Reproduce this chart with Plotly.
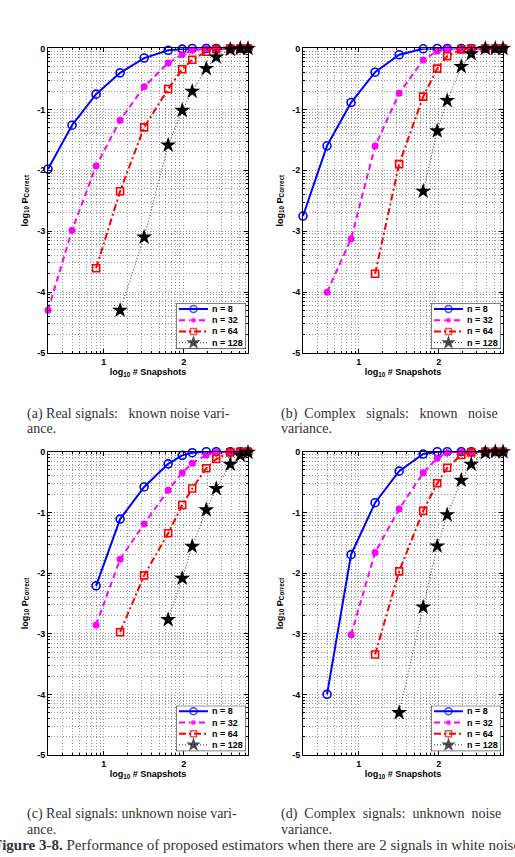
import numpy as np
import plotly.graph_objects as go

W, H = 515, 857

# ---------------- data ----------------
snapshots = [2, 4, 8, 16, 32, 64, 96, 128, 192, 256, 384, 512, 640]
series_names = ["n = 8", "n = 32", "n = 64", "n = 128"]

# log10 P_correct ; None = not plotted
a_n8 = [-1.98, -1.26, -0.75, -0.40, -0.157, -0.03, -0.01, 0, 0, 0, 0, 0, 0]
a_n32 = [-4.30, -2.985, -1.93, -1.18, -0.628, -0.238, -0.098, -0.03, -0.005, 0, 0, 0, 0]
a_n64 = [None, None, -3.61, -2.345, -1.295, -0.666, -0.341, -0.184, -0.054, -0.011, 0, 0, 0]
a_n128 = [None, None, None, -4.30, -3.10, -1.587, -1.018, -0.704, -0.33, -0.141, -0.016, 0, 0]

b_n8 = [-2.752, -1.598, -0.888, -0.39, -0.103, -0.005, 0, 0, 0, 0, 0, 0, 0]
b_n32 = [None, -4.003, -3.126, -1.603, -0.737, -0.19, -0.043, 0, 0, 0, 0, 0, 0]
b_n64 = [None, None, None, -3.70, -1.90, -0.791, -0.33, -0.125, -0.016, 0, 0, 0, 0]
b_n128 = [None, None, None, None, None, -2.346, -1.354, -0.856, -0.298, -0.087, 0, 0, 0]

c_n8 = [None, None, -2.21, -1.11, -0.58, -0.20, -0.06, -0.016, 0, 0, 0, 0, 0]
c_n32 = [None, None, -2.855, -1.77, -1.19, -0.634, -0.35, -0.19, -0.054, -0.01, 0, 0, 0]
c_n64 = [None, None, None, -2.974, -2.037, -1.343, -0.878, -0.607, -0.271, -0.12, -0.01, 0, 0]
c_n128 = [None, None, None, None, None, -2.768, -2.086, -1.56, -0.959, -0.607, -0.206, -0.06, -0.01]

d_n8 = [None, -3.998, -1.696, -0.84, -0.32, -0.038, 0, 0, 0, 0, 0, 0, 0]
d_n32 = [None, None, -3.017, -1.66, -0.943, -0.347, -0.108, -0.016, 0, 0, 0, 0, 0]
d_n64 = [None, None, None, -3.342, -1.972, -0.975, -0.52, -0.265, -0.054, -0.01, 0, 0, 0]
d_n128 = [None, None, None, None, -4.30, -2.56, -1.555, -1.04, -0.47, -0.206, -0.016, 0, 0]

panels = [
    [a_n8, a_n32, a_n64, a_n128],
    [b_n8, b_n32, b_n64, b_n128],
    [c_n8, c_n32, c_n64, c_n128],
    [d_n8, d_n32, d_n64, d_n128],
]

x_tick_vals = [1, 2]
x_tick_text = ["1", "2"]
y_tick_vals = [-5, -4, -3, -2, -1, 0]
y_tick_text = ["-5", "-4", "-3", "-2", "-1", "0"]

NB = "\u00a0"
captions = [
    ["(a) Real signals:" + NB * 2 + " known noise vari-", "ance."],
    ["(b)" + NB + " Complex" + NB * 2 + " signals:" + NB * 2 + " known" + NB * 2 + " noise", "variance."],
    ["(c) Real signals: unknown noise vari-", "ance."],
    ["(d)" + NB + " Complex" + NB + " signals:" + NB + " unknown" + NB + " noise", "variance."],
]
figure_caption = ("<b>Figure 3-8.</b> Performance of proposed estimators when there are "
                  "2 signals in white noise.")

# ---------------- styles ----------------
styles = [
    dict(line=dict(color="#0000FF", width=2, dash="solid"),
         marker=dict(symbol="circle-open", size=8, color="#0000FF", line=dict(width=1.6, color="#0000FF"))),
    dict(line=dict(color="#FF00FF", width=2, dash="6px,4px"),
         marker=dict(symbol="circle", size=7, color="#FF00FF")),
    dict(line=dict(color="#FF0000", width=2, dash="7px,3px,2px,3px"),
         marker=dict(symbol="square-open", size=7, color="#FF0000", line=dict(width=1.6, color="#FF0000"))),
    dict(line=dict(color="#555555", width=1.2, dash="1px,2px"),
         marker=dict(symbol="star", size=12, color="#000000", line=dict(width=0))),
]

# plot area pixel boxes (left, right, top, bottom)
boxes = [
    (48, 248, 44, 352),
    (303, 503, 44, 352),
    (48, 248, 452, 759),
    (303, 503, 452, 759),
]

xlog = np.log10(snapshots)
xmin, xmax = float(np.log10(2)), float(np.log10(640))

x_minor = [float(np.log10(k * 10 ** e)) for e in range(0, 3) for k in range(2, 10)
           if xmin < np.log10(k * 10 ** e) < xmax]
y_minor = [float(np.log10(k) + e) for e in range(-5, 0) for k in range(2, 10)]

GRID = "#9a9a9a"
TF = dict(family="Liberation Sans, Arial", size=9, color="black", weight="bold")

fig = go.Figure()
layout = dict(width=W, height=H, margin=dict(l=0, r=0, t=0, b=0),
              paper_bgcolor="white", plot_bgcolor="white", showlegend=False)
annotations = []
shapes = []

def dom_x(l, r):
    return [l / W, r / W]

def dom_y(t, b):
    return [1 - b / H, 1 - t / H]

for p, series in enumerate(panels):
    l, r, t, b = boxes[p]
    sfx = "" if p == 0 else str(p + 1)
    for i, ys in enumerate(series):
        fig.add_trace(go.Scatter(
            x=xlog, y=ys, mode="lines+markers", name=series_names[i],
            line=styles[i]["line"], marker=styles[i]["marker"],
            cliponaxis=False, xaxis="x" + sfx, yaxis="y" + sfx))
    layout["xaxis" + sfx] = dict(
        domain=dom_x(l, r), anchor="y" + sfx, range=[xmin, xmax],
        tickmode="array", tickvals=x_tick_vals, ticktext=x_tick_text,
        ticks="inside", ticklen=4, tickcolor="black", tickwidth=1,
        showline=True, linecolor="black", linewidth=1, mirror="allticks",
        showgrid=True, gridcolor=GRID, griddash="1px,2px", gridwidth=1,
        zeroline=False, tickfont=TF,
        minor=dict(tickmode="array", tickvals=x_minor, ticks="inside", ticklen=2,
                   tickcolor="black", showgrid=True, gridcolor=GRID,
                   griddash="1px,2px", gridwidth=1),
        title=dict(text="<b>log<sub>10</sub> # Snapshots</b>",
                   font=dict(family="Liberation Sans, Arial", size=9, color="black"),
                   standoff=1),
    )
    layout["yaxis" + sfx] = dict(
        domain=dom_y(t, b), anchor="x" + sfx, range=[-5, 0],
        tickmode="array", tickvals=y_tick_vals, ticktext=y_tick_text,
        ticks="inside", ticklen=4, tickcolor="black", tickwidth=1,
        showline=True, linecolor="black", linewidth=1, mirror="allticks",
        showgrid=True, gridcolor=GRID, griddash="1px,2px", gridwidth=1,
        zeroline=False, tickfont=TF,
        minor=dict(tickmode="array", tickvals=y_minor, ticks="inside", ticklen=2,
                   tickcolor="black", showgrid=True, gridcolor=GRID,
                   griddash="1px,2px", gridwidth=1),
        title=dict(text="<b>log<sub>10</sub> P<sub>Correct</sub></b>",
                   font=dict(family="Liberation Sans, Arial", size=9, color="black"),
                   standoff=7),
    )

    # ---- legend box drawn on its own small axes ----
    lsfx = str(p + 5)
    lw, lh = 70, 46
    lr, lb = r - 2, b - 4
    ll, lt = lr - lw, lb - lh
    layout["xaxis" + lsfx] = dict(domain=dom_x(ll, lr), anchor="y" + lsfx,
                                  range=[0, lw], visible=False, fixedrange=True)
    layout["yaxis" + lsfx] = dict(domain=dom_y(lt, lb), anchor="x" + lsfx,
                                  range=[lh, 0], visible=False, fixedrange=True)
    shapes.append(dict(type="rect", xref="x" + lsfx, yref="y" + lsfx,
                       x0=0, x1=lw, y0=0, y1=lh, layer="below",
                       fillcolor="white", line=dict(color="black", width=1)))
    rows = [5.6, 17.0, 28.3, 39.6]
    for i, name in enumerate(series_names):
        mk = dict(styles[i]["marker"])
        mk["size"] = [0, max(styles[i]["marker"]["size"] - 1, 6), 0]
        fig.add_trace(go.Scatter(
            x=[3, 17.5, 32], y=[rows[i]] * 3, mode="lines+markers",
            line=styles[i]["line"], marker=mk,
            cliponaxis=False, hoverinfo="skip",
            xaxis="x" + lsfx, yaxis="y" + lsfx))
        annotations.append(dict(xref="x" + lsfx, yref="y" + lsfx, x=34, y=rows[i],
                                text="<b>" + name + "</b>", showarrow=False,
                                xanchor="left", yanchor="middle",
                                font=dict(family="Liberation Sans, Arial", size=9, color="black")))

# ---------------- captions ----------------
cap_pos = [(25, 413.5, 428), (279, 413.5, 428), (25, 818.5, 834), (279, 818.5, 834)]
CF = dict(family="Liberation Serif, Times New Roman, serif", size=14, color="#333333")
for p, (cx, y1, y2) in enumerate(cap_pos):
    for line, yy in zip(captions[p], (y1, y2)):
        annotations.append(dict(xref="paper", yref="paper", x=cx / W, y=1 - yy / H,
                                text=line, showarrow=False, xanchor="left",
                                yanchor="middle", font=CF))
annotations.append(dict(xref="paper", yref="paper", x=-9 / W, y=1 - 850 / H,
                        text=figure_caption, showarrow=False, xanchor="left",
                        yanchor="middle",
                        font=dict(family="Liberation Serif, Times New Roman, serif",
                                  size=15, color="#333333")))

layout["annotations"] = annotations
layout["shapes"] = shapes
fig.update_layout(**layout)
fig.write_html("out.html")
